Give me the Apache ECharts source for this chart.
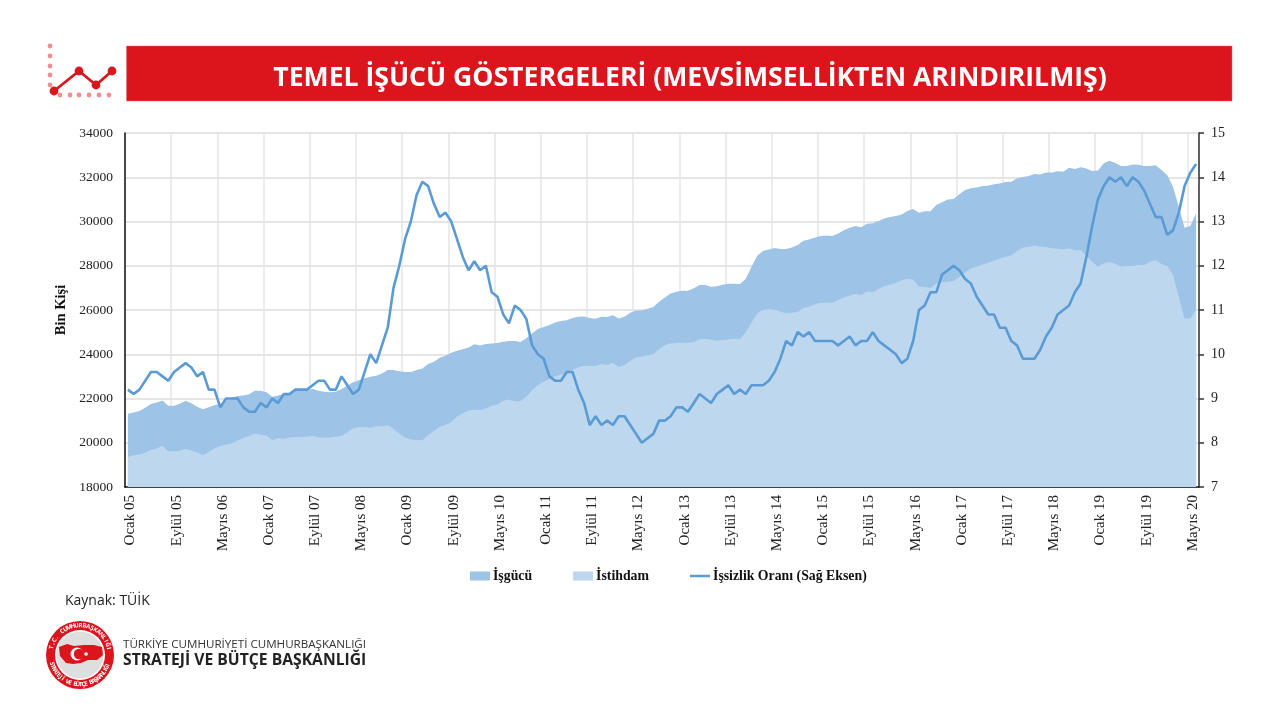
<!DOCTYPE html>
<html>
<head>
<meta charset="utf-8">
<title>Temel İşücü Göstergeleri</title>
<script src="https://cdn.jsdelivr.net/npm/echarts@6/dist/echarts.min.js"></script>
<style>
html, body { margin: 0; padding: 0; background: #fff; }
#main { width: 1280px; height: 720px; }
</style>
</head>
<body>
<div id="main"></div>
<script>
// aylik seriler, Ocak 05'ten itibaren
var isgucu = [
    21310, 21370, 21430, 21580, 21750, 21820, 21910, 21670, 21670, 21760,
    21900, 21790, 21630, 21510, 21600, 21700, 21760, 21910, 22030, 22110,
    22140, 22190, 22350, 22350, 22280, 22080, 22140, 22200, 22260, 22340,
    22370, 22400, 22430, 22350, 22310, 22280, 22310, 22430, 22580, 22730,
    22830, 22910, 22980, 23030, 23130, 23290, 23290, 23230, 23200, 23200,
    23290, 23360, 23560, 23660, 23840, 23930, 24070, 24160, 24230, 24310,
    24450, 24390, 24460, 24490, 24510, 24570, 24600, 24600, 24550, 24720,
    24940, 25140, 25230, 25320, 25440, 25500, 25540, 25640, 25700, 25710,
    25640, 25610, 25700, 25680, 25760, 25620, 25700, 25880, 25980, 25980,
    26060, 26130, 26370, 26570, 26750, 26830, 26870, 26870, 26980, 27130,
    27130, 27050, 27070, 27140, 27190, 27190, 27170, 27400, 27960, 28450,
    28670, 28740, 28800, 28760, 28760, 28830, 28940, 29130, 29190, 29280,
    29340, 29370, 29340, 29460, 29610, 29720, 29800, 29740, 29900, 29920,
    30020, 30140, 30200, 30250, 30320, 30470, 30560, 30400, 30460, 30460,
    30750, 30870, 31000, 31020, 31230, 31420, 31500, 31540, 31600, 31620,
    31680, 31720, 31780, 31800, 31950, 32010, 32060, 32150, 32120, 32210,
    32220, 32270, 32250, 32430, 32370, 32450, 32390, 32280, 32300, 32630,
    32750, 32640, 32510, 32510, 32580, 32570, 32510, 32510, 32540, 32330,
    32100, 31570, 30670, 29720, 29800, 30370
];
var istihdam = [
    19370, 19440, 19460, 19560, 19670, 19740, 19860, 19620, 19610, 19640,
    19730, 19650, 19560, 19430, 19590, 19740, 19850, 19920, 19970, 20100,
    20220, 20300, 20420, 20350, 20330, 20120, 20200, 20180, 20240, 20260,
    20260, 20270, 20320, 20240, 20240, 20240, 20270, 20320, 20470, 20650,
    20710, 20710, 20680, 20750, 20750, 20800, 20620, 20420, 20240, 20150,
    20120, 20110, 20350, 20530, 20720, 20800, 20950, 21180, 21330, 21460,
    21490, 21480, 21550, 21670, 21730, 21900, 21960, 21880, 21880, 22080,
    22380, 22610, 22760, 22880, 23010, 23090, 23130, 23290, 23410, 23470,
    23480, 23470, 23560, 23510, 23620, 23420, 23510, 23710, 23870, 23890,
    23960, 24010, 24230, 24420, 24490, 24510, 24520, 24520, 24540, 24690,
    24690, 24660, 24610, 24640, 24670, 24700, 24700, 24990, 25440, 25850,
    26000, 26030, 26010, 25920, 25850, 25880, 25910, 26100, 26150, 26260,
    26330, 26330, 26340, 26450, 26560, 26650, 26720, 26680, 26840, 26800,
    26950, 27080, 27140, 27220, 27340, 27400, 27380, 27050, 27040, 26990,
    27200, 27250, 27280, 27310, 27500, 27690, 27880, 27960, 28060, 28140,
    28210, 28330, 28410, 28480, 28670, 28820, 28860, 28920, 28860, 28850,
    28790, 28770, 28730, 28790, 28700, 28710, 28450, 28180, 27960, 28110,
    28170, 28090, 27970, 27990, 27990, 28030, 28030, 28180, 28260, 28080,
    27990, 27580, 26600, 25610, 25620, 26030
];
var issizlik = [
    9.2, 9.1, 9.2, 9.4, 9.6, 9.6, 9.5, 9.4, 9.6, 9.7,
    9.8, 9.7, 9.5, 9.6, 9.2, 9.2, 8.8, 9.0, 9.0, 9.0,
    8.8, 8.7, 8.7, 8.9, 8.8, 9.0, 8.9, 9.1, 9.1, 9.2,
    9.2, 9.2, 9.3, 9.4, 9.4, 9.2, 9.2, 9.5, 9.3, 9.1,
    9.2, 9.6, 10.0, 9.8, 10.2, 10.6, 11.5, 12.0, 12.6, 13.0,
    13.6, 13.9, 13.8, 13.4, 13.1, 13.2, 13.0, 12.6, 12.2, 11.9,
    12.1, 11.9, 12.0, 11.4, 11.3, 10.9, 10.7, 11.1, 11.0, 10.8,
    10.2, 10.0, 9.9, 9.5, 9.4, 9.4, 9.6, 9.6, 9.2, 8.9,
    8.4, 8.6, 8.4, 8.5, 8.4, 8.6, 8.6, 8.4, 8.2, 8.0,
    8.1, 8.2, 8.5, 8.5, 8.6, 8.8, 8.8, 8.7, 8.9, 9.1,
    9.0, 8.9, 9.1, 9.2, 9.3, 9.1, 9.2, 9.1, 9.3, 9.3,
    9.3, 9.4, 9.6, 9.9, 10.3, 10.2, 10.5, 10.4, 10.5, 10.3,
    10.3, 10.3, 10.3, 10.2, 10.3, 10.4, 10.2, 10.3, 10.3, 10.5,
    10.3, 10.2, 10.1, 10.0, 9.8, 9.9, 10.3, 11.0, 11.1, 11.4,
    11.4, 11.8, 11.9, 12.0, 11.9, 11.7, 11.6, 11.3, 11.1, 10.9,
    10.9, 10.6, 10.6, 10.3, 10.2, 9.9, 9.9, 9.9, 10.1, 10.4,
    10.6, 10.9, 11.0, 11.1, 11.4, 11.6, 12.2, 12.9, 13.5, 13.8,
    14.0, 13.9, 14.0, 13.8, 14.0, 13.9, 13.7, 13.4, 13.1, 13.1,
    12.7, 12.8, 13.2, 13.8, 14.1, 14.3
];
var monthNames = ['Ocak', 'Şubat', 'Mart', 'Nisan', 'Mayıs', 'Haziran', 'Temmuz', 'Ağustos', 'Eylül', 'Ekim', 'Kasım', 'Aralık'];
var seriesNames = ['İşgücü', 'İstihdam', 'İşsizlik Oranı (Sağ Eksen)'];

var months = [];
for (var m = 0; m < isgucu.length; m++) {
    var yy = 5 + Math.floor(m / 12);
    months.push(monthNames[m % 12] + ' ' + (yy < 10 ? '0' + yy : yy));
}

var RED = '#dc141c';
var SERIF = '"Liberation Serif", "Times New Roman", serif';
var SANS = '"Open Sans", "Noto Sans", sans-serif';

// sol ustteki kucuk ikon
function iconParts() {
    var parts = [];
    [46, 56, 66, 75, 85].forEach(function (y) {
        parts.push({ type: 'circle', shape: { cx: 50, cy: y, r: 2.4 }, style: { fill: '#f08e94' } });
    });
    [60, 70, 79, 89, 99, 109].forEach(function (x) {
        parts.push({ type: 'circle', shape: { cx: x, cy: 95, r: 2.4 }, style: { fill: '#f08e94' } });
    });
    var pts = [[54, 91], [79, 71], [96, 85], [112, 71]];
    parts.push({ type: 'polyline', shape: { points: pts }, style: { stroke: RED, lineWidth: 2.8, fill: null } });
    pts.forEach(function (p) {
        parts.push({ type: 'circle', shape: { cx: p[0], cy: p[1], r: 4.4 }, style: { fill: RED } });
    });
    return parts;
}

// amblem: yazilar halka boyunca tek tek dizilir
function ringText(str, cx, cy, r, startDeg, stepDeg, flip) {
    var out = [];
    for (var i = 0; i < str.length; i++) {
        var deg = startDeg + i * stepDeg;
        var rad = deg * Math.PI / 180;
        out.push({
            type: 'text',
            x: cx + r * Math.cos(rad),
            y: cy + r * Math.sin(rad),
            rotation: flip ? -(deg - 90) * Math.PI / 180 : -(deg + 90) * Math.PI / 180,
            style: { text: str[i], fill: '#fff', font: 'bold 6px ' + SANS, textAlign: 'center', textVerticalAlign: 'middle' }
        });
    }
    return out;
}

function logoParts() {
    var cx = 80, cy = 655;
    var parts = [
        { type: 'circle', shape: { cx: cx, cy: cy, r: 34 }, style: { fill: RED } },
        { type: 'circle', shape: { cx: cx, cy: cy, r: 25 }, style: { fill: '#fff' } },
        { type: 'circle', shape: { cx: cx, cy: cy, r: 23.5 }, style: { fill: '#dedede' } },
        { type: 'polygon', shape: { points: [[59, 647], [67, 644], [74, 646], [84, 645], [94, 645], [102, 647], [103, 655], [97, 660], [88, 660], [81, 663], [73, 664], [66, 663], [60, 656]] }, style: { fill: RED } },
        { type: 'circle', shape: { cx: 77, cy: 654, r: 6.5 }, style: { fill: '#fff' } },
        { type: 'circle', shape: { cx: 79, cy: 654, r: 5.2 }, style: { fill: RED } },
        { type: 'circle', shape: { cx: 86, cy: 654, r: 1.8 }, style: { fill: '#fff' } }
    ];
    parts = parts.concat(ringText('T.C. CUMHURBAŞKANLIĞI', cx, cy, 29.5, 195, 7.6, false));
    parts = parts.concat(ringText('STRATEJİ VE BÜTÇE BAŞKANLIĞI', cx, cy, 29.5, 163, -5.3, true));
    return parts;
}

var chart = echarts.init(document.getElementById('main'));
var option = {
    backgroundColor: '#fff',
    animation: false,
    title: {
        text: 'TEMEL İŞÜCÜ GÖSTERGELERİ (MEVSİMSELLİKTEN ARINDIRILMIŞ)',
        left: 685,
        top: 60,
        textAlign: 'center',
        textStyle: { color: '#fff', fontFamily: SANS, fontWeight: 'bold', fontSize: 26.6 }
    },
    grid: { left: 125, right: 81, top: 133, bottom: 233, containLabel: false },
    legend: {
        left: 470,
        top: 569,
        padding: 0,
        itemWidth: 20,
        itemHeight: 9,
        itemGap: 41,
        textStyle: { fontFamily: SERIF, fontWeight: 'bold', fontSize: 13.8, color: '#111', padding: [0, 0, 0, -2] },
        data: [
            { name: seriesNames[0], icon: 'rect' },
            { name: seriesNames[1], icon: 'rect' },
            { name: seriesNames[2], icon: 'path://M0,0H40V5H0Z' }
        ]
    },
    xAxis: {
        type: 'category',
        data: months,
        boundaryGap: true,
        axisLine: { lineStyle: { color: '#111', width: 1.5 } },
        axisTick: { show: false },
        axisLabel: { interval: 7, rotate: 90, margin: 8, verticalAlign: 'top', lineHeight: 5, fontFamily: SERIF, fontSize: 15, color: '#222' },
        splitLine: { show: true, interval: 7, lineStyle: { color: '#e4e4e4', width: 1.5 } }
    },
    yAxis: [
        {
            type: 'value',
            min: 18000,
            max: 34000,
            interval: 2000,
            name: 'Bin Kişi',
            nameLocation: 'middle',
            nameRotate: 90,
            nameGap: 54,
            nameTextStyle: { fontFamily: SERIF, fontWeight: 'bold', fontSize: 14.5, color: '#111' },
            axisLine: { show: true, lineStyle: { color: '#111', width: 1.5 } },
            axisTick: { show: false },
            axisLabel: {
                margin: 12, fontFamily: SERIF, fontSize: 13.5, color: '#222',
                formatter: function (v) { return String(v); }
            },
            splitLine: { show: true, lineStyle: { color: '#dcdcdc', width: 1.5 } }
        },
        {
            type: 'value',
            min: 7,
            max: 15,
            interval: 1,
            position: 'right',
            axisLine: { show: true, lineStyle: { color: '#333', width: 1.5 } },
            axisTick: { show: true, length: 5, lineStyle: { color: '#333', width: 1.5 } },
            axisLabel: { margin: 12, fontFamily: SERIF, fontSize: 14, color: '#222' },
            splitLine: { show: false }
        }
    ],
    series: [
        {
            name: seriesNames[0],
            type: 'line',
            data: isgucu,
            showSymbol: false,
            symbol: 'none',
            itemStyle: { color: '#9dc3e6' },
            lineStyle: { width: 0 },
            areaStyle: { color: '#9dc3e6', opacity: 1 },
            z: 2
        },
        {
            name: seriesNames[1],
            type: 'line',
            data: istihdam,
            showSymbol: false,
            symbol: 'none',
            itemStyle: { color: '#bdd7ee' },
            lineStyle: { width: 0 },
            areaStyle: { color: '#bdd7ee', opacity: 1 },
            z: 3
        },
        {
            name: seriesNames[2],
            type: 'line',
            yAxisIndex: 1,
            data: issizlik,
            showSymbol: false,
            symbol: 'none',
            itemStyle: { color: '#5b9bd5' },
            lineStyle: { color: '#5b9bd5', width: 2.6 },
            z: 4
        }
    ],
    graphic: [
        {
            type: 'rect',
            shape: { x: 126.5, y: 46, width: 1105.5, height: 55 },
            style: { fill: RED, stroke: '#ee6b70', lineWidth: 0.5 }
        },
        { type: 'group', children: iconParts() },
        { type: 'group', children: logoParts() },
        {
            type: 'text', x: 65, y: 601,
            style: { text: 'Kaynak: TÜİK', fill: '#222', font: '14px ' + SANS, textVerticalAlign: 'middle' }
        },
        {
            type: 'text', x: 123, y: 645,
            style: { text: 'TÜRKİYE CUMHURİYETİ CUMHURBAŞKANLIĞI', fill: '#333', font: '11.6px ' + SANS, textVerticalAlign: 'middle' }
        },
        {
            type: 'text', x: 123, y: 661,
            style: { text: 'STRATEJİ VE BÜTÇE BAŞKANLIĞI', fill: '#222', font: 'bold 15.7px ' + SANS, textVerticalAlign: 'middle' }
        }
    ]
};
chart.setOption(option);
</script>
</body>
</html>
